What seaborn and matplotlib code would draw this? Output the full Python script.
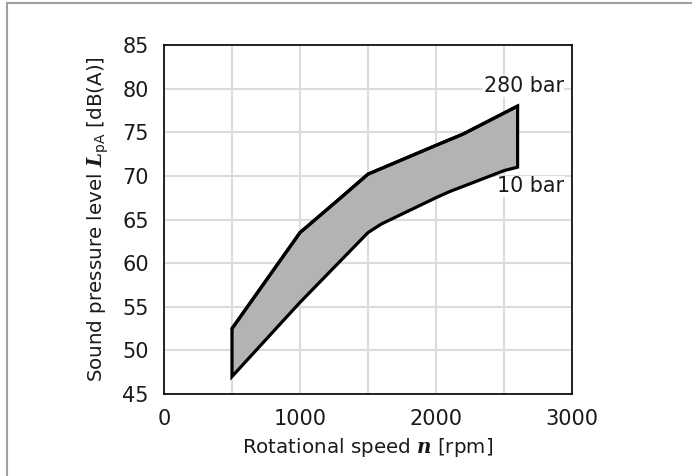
import matplotlib
matplotlib.use("Agg")
import matplotlib.pyplot as plt
import seaborn as sns
import pandas as pd
from matplotlib.lines import Line2D

# Data
speed_280 = [500, 1000, 1300, 1500, 2000, 2200, 2500, 2600]
level_280 = [52.5, 63.5, 67.5, 70.2, 73.5, 74.8, 77.2, 78.0]
speed_10 = [500, 1000, 1500, 1600, 2000, 2100, 2500, 2600]
level_10 = [47.0, 55.5, 63.5, 64.5, 67.5, 68.2, 70.6, 71.0]
x_ticks = [0, 1000, 2000, 3000]
y_ticks = [45, 50, 55, 60, 65, 70, 75, 80, 85]

sns.set_theme(style="whitegrid")
plt.rcParams['font.family'] = ['DejaVu Sans']
plt.rcParams['mathtext.fontset'] = 'custom'
plt.rcParams['mathtext.it'] = 'DejaVu Serif:italic:bold'
plt.rcParams['mathtext.rm'] = 'DejaVu Sans'

fig = plt.figure(figsize=(6.92, 4.76), dpi=100)
ax = fig.add_axes([164/692, 1-394/476, (572-164)/692, (394-45)/476])

# polygon outline: upper curve then lower curve reversed
poly_x = speed_280 + speed_10[::-1]
poly_y = level_280 + level_10[::-1]
ax.fill(poly_x, poly_y, facecolor="#b3b3b3", edgecolor="black", linewidth=2.3,
        joinstyle="miter", zorder=3)

df = pd.DataFrame({"speed": speed_280, "level": level_280})
sns.lineplot(data=df, x="speed", y="level", ax=ax, color="black", linewidth=2.3,
             sort=False, zorder=4)

ax.set_xlim(0, 3000)
ax.set_ylim(45, 85)
ax.set_xticks(x_ticks)
ax.set_yticks(y_ticks)
ax.set_xticks([500, 1500, 2500], minor=True)
ax.grid(True, which="both", color="#dcdcdc", linewidth=1.5)
ax.set_axisbelow(True)
ax.tick_params(axis="both", which="both", length=0, labelsize=15, colors="#1a1a1a")
ax.tick_params(axis="x", pad=11)
ax.tick_params(axis="y", pad=11)
for s in ax.spines.values():
    s.set_color("black")
    s.set_linewidth(1.2)
ax.set_facecolor("white")

ax.set_xlabel(r"Rotational speed $n$ [rpm]", fontsize=14.3, color="#1a1a1a", labelpad=5)
ax.set_ylabel(r"Sound pressure level $L_{\mathrm{pA}}$ [dB(A)]", fontsize=14.3,
              color="#1a1a1a", labelpad=8)

ax.text(2940, 80.3, "280 bar", ha="right", va="center", fontsize=14.9, color="#1a1a1a",
        zorder=5, bbox=dict(facecolor="white", edgecolor="none", pad=0.5))
ax.text(2940, 68.8, "10 bar", ha="right", va="center", fontsize=14.9, color="#1a1a1a",
        zorder=5, bbox=dict(facecolor="white", edgecolor="none", pad=0.5))

# outer light border (top and left)
fig.add_artist(Line2D([6.5/692, 1.0], [1-2.5/476, 1-2.5/476], color="#a0a0a0", linewidth=1.5))
fig.add_artist(Line2D([6.5/692, 6.5/692], [0, 1-2.5/476], color="#a0a0a0", linewidth=1.5))

fig.savefig("out.png", dpi=100, facecolor="white")
